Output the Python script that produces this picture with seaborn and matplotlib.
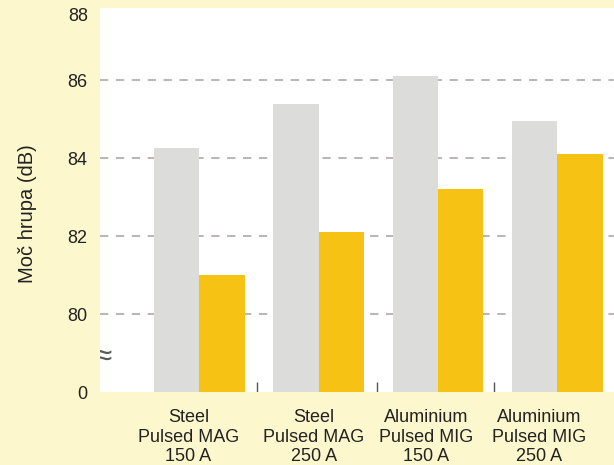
import matplotlib
matplotlib.use("Agg")
import matplotlib.pyplot as plt
import matplotlib.transforms as mtransforms
import numpy as np
import pandas as pd
import seaborn as sns

# Sound power level per welding process
processes = ["Steel\nPulsed MAG\n150 A", "Steel\nPulsed MAG\n250 A",
             "Aluminium\nPulsed MIG\n150 A", "Aluminium\nPulsed MIG\n250 A"]
series_names = ["Standard", "Low noise"]
standard_db = [84.25, 85.4, 86.1, 84.95]
low_noise_db = [81.0, 82.1, 83.2, 84.1]

y_ticks = [78, 80, 82, 84, 86]
y_tick_labels = ["0", "80", "82", "84", "86"]
y_label = "Moč hrupa (dB)"

bg_yellow = "#FDF7CD"
bar_gray = "#DCDCDA"
bar_yellow = "#F6C315"
text_color = "#222222"

df = pd.DataFrame({
    "process": processes * 2,
    "series": [series_names[0]] * 4 + [series_names[1]] * 4,
    "db": standard_db + low_noise_db,
})

sns.set_theme(style="white")
plt.rcParams["font.family"] = ["Liberation Sans", "DejaVu Sans"]

fig = plt.figure(figsize=(6.14, 4.65), dpi=100, facecolor=bg_yellow)
ax = fig.add_axes([100 / 614, 73 / 465, 514 / 614, 384 / 465])
ax.set_facecolor("white")

# broken axis: the bottom of the scale stands for zero
y_bottom, y_top = 78, 87.85

sns.barplot(data=df, x="process", y="db", hue="series", order=processes,
            hue_order=series_names, palette=[bar_gray, bar_yellow],
            width=0.76, saturation=1, linewidth=0, legend=False, ax=ax,
            zorder=3)

# bars start from the bottom of the broken scale
for patch in ax.patches:
    top = patch.get_y() + patch.get_height()
    patch.set_y(y_bottom)
    patch.set_height(top - y_bottom)

ax.set_ylim(y_bottom, y_top)
ax.set_xlim(-0.834, 3.475)

# dashed grid lines behind the bars
for v in [80, 82, 84, 86]:
    ax.axhline(v, color="#b8afaf", lw=1.3, dashes=(4.6, 4.2), zorder=1)

# short separators between the process groups
ax.vlines([0.48, 1.49, 2.47], y_bottom, y_bottom + 0.25, color="#555555",
          lw=1.0, zorder=4)

for s in ax.spines.values():
    s.set_visible(False)

ax.set_yticks(y_ticks)
ax.set_yticklabels(y_tick_labels)
ax.tick_params(axis="y", length=0, pad=9, labelsize=13, labelcolor=text_color)
ax.text(-0.0235, 0.977, "88", transform=ax.transAxes, ha="right", va="center",
        fontsize=13, color=text_color)

ax.set_xlabel("")
ax.tick_params(axis="x", length=0, pad=12, labelsize=13, labelcolor=text_color)
label_shift_px = [-11, -5, -12, -18]
for lab, dx in zip(ax.get_xticklabels(), label_shift_px):
    lab.set_linespacing(1.22)
    shift = mtransforms.ScaledTranslation(dx / 100, 0, fig.dpi_scale_trans)
    lab.set_transform(lab.get_transform() + shift)

ax.set_ylabel(y_label, fontsize=14.5, color=text_color)
ax.yaxis.set_label_coords(-0.123, 0.465)

# axis break mark
ax.text(-0.014, 0.09, "≈", transform=ax.transAxes, ha="left", va="center",
        fontsize=24, color="#5a5a5a", clip_on=True, zorder=5)

fig.savefig("out.png", dpi=100, facecolor=bg_yellow)
